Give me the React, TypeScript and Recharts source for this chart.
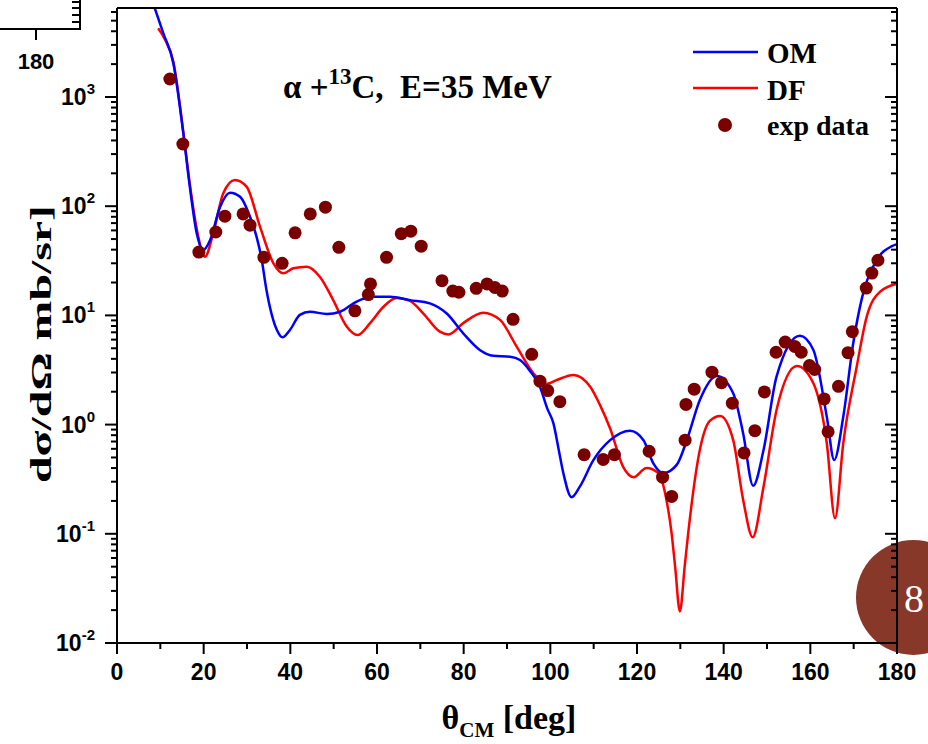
import { ComposedChart, Line, Scatter, XAxis, YAxis } from 'recharts'

// OM (optical model) curve
const omTheta = [
  8.6, 10.7, 13.0, 15.3, 16.8, 18.4, 19.9, 21.5, 23.8, 26.1,
  28.4, 30.7, 32.2, 33.3, 34.5, 36.9, 38.2, 39.9, 42.2, 44.5,
  48.4, 51.5, 55.3, 59.2, 63.0, 67.6, 72.2, 76.1, 79.9, 83.8,
  86.8, 90.7, 93.0, 95.3, 97.6, 99.3, 100.7, 102.0, 103.0, 104.9,
  106.8, 109.9, 113.8, 118.4, 121.5, 123.8, 126.1, 129.2, 131.5, 134.5,
  138.4, 142.2, 144.5, 146.8, 149.2, 152.2, 157.6, 160.7, 163.8, 165.5,
  167.6, 169.9, 171.8, 175.3, 178.8, 180,
]
const omSigma = [
  6700, 3830, 2036, 466, 151, 56.5, 39.7, 49, 99, 133,
  122, 80, 52.6, 34, 17, 7.35, 6.3, 7.35, 10.1, 10.8,
  10.3, 10.8, 13.4, 14.8, 14.8, 13.8, 12.9, 10.4, 6.85, 4.8,
  4.27, 4.19, 3.9, 3.1, 2.22, 1.4, 1.03, 0.57, 0.36, 0.216,
  0.27, 0.47, 0.72, 0.88, 0.72, 0.44, 0.36, 0.43, 0.72, 1.68,
  2.79, 1.94, 0.83, 0.275, 0.585, 2.75, 6.5, 4.82, 1.18, 0.474,
  1.18, 5.56, 13.8, 32, 43, 45,
]

// DF (double folding) curve
const dfTheta = [
  9.5, 11.0, 13.0, 15.3, 16.8, 18.4, 20.3, 22.2, 24.5, 27.2,
  29.9, 33.0, 36.1, 38.4, 40.7, 43.8, 46.8, 49.9, 53.0, 55.5,
  58.4, 61.5, 64.5, 67.6, 70.7, 74.5, 76.5, 79.9, 84.5, 88.4,
  92.2, 96.1, 99.2, 101.5, 105.3, 109.2, 111.5, 113.8, 116.8, 119.2,
  122.2, 124.9, 126.8, 128.0, 128.8, 129.9, 131.0, 131.8, 134.5, 136.8,
  139.2, 142.2, 144.5, 146.7, 149.2, 152.2, 156.9, 160.7, 163.8, 165.7,
  167.6, 170.7, 173.0, 176.1, 180,
]
const dfSigma = [
  4257, 3400, 2100, 480, 160, 62, 34.5, 56.5, 131, 174,
  151, 65, 30, 24.3, 27, 27.9, 22.6, 13.8, 7.9, 6.6,
  8.5, 12, 14.4, 13.6, 10.4, 7.1, 6.7, 8.5, 10.6, 9.1,
  5.2, 2.95, 2.36, 2.56, 2.85, 2.22, 1.5, 0.92, 0.41, 0.33,
  0.4, 0.36, 0.204, 0.1, 0.05, 0.0194, 0.05, 0.1, 0.585, 1.08,
  1.2, 0.72, 0.204, 0.093, 0.27, 1.36, 3.44, 2.39, 0.675, 0.139,
  0.675, 3.39, 9.7, 16.5, 19.5,
]

// experimental points
const expTheta = [
  12.2, 15.2, 18.9, 22.8, 24.9, 29.1, 30.7, 33.9, 38.1, 41.1,
  44.6, 48.1, 51.2, 54.9, 58.0, 58.5, 62.2, 65.6, 67.8, 70.2,
  75.0, 77.5, 78.9, 82.9, 85.4, 87.2, 88.9, 91.4, 95.7, 97.6,
  99.4, 102.2, 107.8, 112.2, 114.8, 122.8, 125.9, 128.0, 131.1, 131.3,
  133.2, 137.3, 139.5, 142.0, 144.7, 147.2, 149.4, 152.1, 154.2, 156.4,
  157.9, 159.8, 161.0, 163.2, 164.1, 166.5, 168.7, 169.7, 172.9, 174.2,
  175.6,
]
const expSigma = [
  1462, 371, 38, 58, 81, 85, 67, 34, 30, 57,
  85, 98, 42, 11, 15.5, 19.4, 34, 56, 59, 43,
  20.8, 16.7, 16.3, 17.7, 19.4, 18, 16.7, 9.2, 4.4, 2.5,
  2.05, 1.62, 0.53, 0.48, 0.53, 0.57, 0.33, 0.22, 0.72, 1.53,
  2.11, 3.02, 2.42, 1.57, 0.55, 0.88, 1.99, 4.6, 5.7, 5.2,
  4.6, 3.47, 3.2, 1.72, 0.86, 2.24, 4.56, 7.1, 17.8, 24.4,
  32,
]

const xTicks = [0, 10, 20, 30, 40, 50, 60, 70, 80, 90, 100, 110, 120, 130, 140, 150, 160, 170, 180]
const yDecades = [-2, -1, 0, 1, 2, 3]
const yMantissas = [1, 2, 3, 4, 5, 6, 7, 8, 9]
const yMax = 6530

const yTicks = yDecades
  .flatMap((d) => yMantissas.map((m) => Number((m * 10 ** d).toPrecision(6))))
  .filter((v) => v <= yMax)

const omData = omTheta.map((x, i) => ({ x, y: omSigma[i] }))
const dfData = dfTheta.map((x, i) => ({ x, y: dfSigma[i] }))
const expData = expTheta.map((x, i) => ({ x, y: expSigma[i] }))

const sans = 'Liberation Sans, Arial, sans-serif'
const serif = 'Liberation Serif, Times New Roman, serif'
const axisStroke = { stroke: '#000', strokeWidth: 2 }

function isMajorY(v: number) {
  const l = Math.log10(v)
  return Math.abs(l - Math.round(l)) < 1e-6
}

function BottomTick(props: any) {
  const { x, y, payload } = props
  const major = payload.value % 20 === 0
  return (
    <g>
      <line x1={x} x2={x} y1={y} y2={y + (major ? 11 : 6)} stroke="#000" strokeWidth={2} />
      {major && (
        <text x={x} y={y + 37} textAnchor="middle" fontFamily={sans} fontWeight="bold" fontSize={23} fill="#000">
          {payload.value}
        </text>
      )}
    </g>
  )
}

function TopTick(props: any) {
  const { x, y, payload } = props
  const major = payload.value % 20 === 0
  return <line x1={x} x2={x} y1={y} y2={y + (major ? 11 : 6)} stroke="#000" strokeWidth={2} />
}

function LeftTick(props: any) {
  const { x, y, payload } = props
  const major = isMajorY(payload.value)
  const e = Math.round(Math.log10(payload.value))
  return (
    <g>
      <line x1={x} x2={x - (major ? 12 : 6)} y1={y} y2={y} stroke="#000" strokeWidth={2} />
      {major && (
        <text x={x - 22} y={y + 8} textAnchor="end" fontFamily={sans} fontWeight="bold" fontSize={23} fill="#000">
          10
          <tspan dy={-11} fontSize={15}>
            {e}
          </tspan>
        </text>
      )}
    </g>
  )
}

function RightTick(props: any) {
  const { x, y, payload } = props
  const major = isMajorY(payload.value)
  return <line x1={x} x2={x - (major ? 12 : 6)} y1={y} y2={y} stroke="#000" strokeWidth={2} />
}

function ExpDot(props: any) {
  const { cx, cy } = props
  return <circle cx={cx} cy={cy} r={6.5} fill="#7a0000" />
}

export default function App() {
  return (
    <div style={{ position: 'absolute', left: 0, top: 0, width: 928, height: 744, background: '#fff' }}>
      <div
        style={{
          position: 'absolute',
          left: 856,
          top: 540,
          width: 115,
          height: 115,
          borderRadius: '50%',
          background: '#873828',
        }}
      />
      <div style={{ position: 'absolute', left: 0, top: 0 }}>
        <ComposedChart width={928} height={744} margin={{ top: 7, right: 30, bottom: 41, left: 57 }}>
          <XAxis
            xAxisId="b"
            type="number"
            dataKey="x"
            domain={[0, 180]}
            ticks={xTicks}
            interval={0}
            height={60}
            tickSize={0}
            tickMargin={0}
            tickLine={false}
            axisLine={axisStroke}
            tick={<BottomTick />}
          />
          <XAxis
            xAxisId="t"
            orientation="top"
            type="number"
            dataKey="x"
            domain={[0, 180]}
            ticks={xTicks}
            interval={0}
            height={1}
            tickSize={0}
            tickMargin={0}
            tickLine={false}
            axisLine={axisStroke}
            tick={<TopTick />}
          />
          <YAxis
            yAxisId="l"
            type="number"
            dataKey="y"
            scale="log"
            domain={[0.01, yMax]}
            allowDataOverflow
            ticks={yTicks}
            interval={0}
            width={60}
            tickSize={0}
            tickMargin={0}
            tickLine={false}
            axisLine={axisStroke}
            tick={<LeftTick />}
          />
          <YAxis
            yAxisId="r"
            orientation="right"
            type="number"
            dataKey="y"
            scale="log"
            domain={[0.01, yMax]}
            allowDataOverflow
            ticks={yTicks}
            interval={0}
            width={1}
            tickSize={0}
            tickMargin={0}
            tickLine={false}
            axisLine={axisStroke}
            tick={<RightTick />}
          />
          <Line
            xAxisId="b"
            yAxisId="l"
            data={dfData}
            dataKey="y"
            type="monotone"
            stroke="#ff0000"
            strokeWidth={2.5}
            dot={false}
            isAnimationActive={false}
          />
          <Line
            xAxisId="b"
            yAxisId="l"
            data={omData}
            dataKey="y"
            type="monotone"
            stroke="#0000ff"
            strokeWidth={2.5}
            dot={false}
            isAnimationActive={false}
          />
          <Scatter
            xAxisId="b"
            yAxisId="l"
            data={expData}
            dataKey="y"
            shape={<ExpDot />}
            isAnimationActive={false}
          />
        </ComposedChart>
      </div>
      <svg
        width={928}
        height={744}
        style={{ position: 'absolute', left: 0, top: 0, pointerEvents: 'none' }}
      >
        {/* leftover of the neighbouring figure */}
        <line x1={0} x2={81} y1={29} y2={29} stroke="#000" strokeWidth={2} />
        <line x1={80} x2={80} y1={0} y2={30} stroke="#000" strokeWidth={2} />
        {[2, 8, 15, 22].map((ty) => (
          <line key={ty} x1={72} x2={80} y1={ty} y2={ty} stroke="#000" strokeWidth={2} />
        ))}
        <line x1={36} x2={36} y1={29} y2={40} stroke="#000" strokeWidth={2} />
        <text x={36} y={69} textAnchor="middle" fontFamily={sans} fontWeight="bold" fontSize={22}>
          180
        </text>

        {/* title */}
        <text x={283} y={98} fontFamily={serif} fontWeight="bold" fontSize={33} xmlSpace="preserve">
          {'α +'}
          <tspan dy={-14} fontSize={23}>
            13
          </tspan>
          <tspan dy={14}>{'C,  E=35 MeV'}</tspan>
        </text>

        {/* legend */}
        <line x1={693} x2={758} y1={52} y2={52} stroke="#0000ff" strokeWidth={2.5} />
        <line x1={693} x2={758} y1={88} y2={88} stroke="#ff0000" strokeWidth={2.5} />
        <circle cx={725} cy={125} r={7} fill="#7a0000" />
        <text x={767} y={63} fontFamily={serif} fontWeight="bold" fontSize={29}>
          OM
        </text>
        <text x={767} y={100} fontFamily={serif} fontWeight="bold" fontSize={29}>
          DF
        </text>
        <text x={767} y={135} fontFamily={serif} fontWeight="bold" fontSize={28}>
          exp data
        </text>

        {/* axis titles */}
        <text
          transform="translate(51, 344) rotate(-90)"
          textAnchor="middle"
          fontFamily={serif}
          fontWeight="bold"
          fontSize={30}
          textLength={278}
          lengthAdjust="spacingAndGlyphs"
        >
          dσ/dΩ mb/sr]
        </text>
        <text x={509} y={729} textAnchor="middle" fontFamily={serif} fontWeight="bold" fontSize={34}>
          θ
          <tspan dy={8} fontSize={21}>
            CM
          </tspan>
          <tspan dy={-8}>{' [deg]'}</tspan>
        </text>

        {/* page number */}
        <text x={914} y={612} textAnchor="middle" fontFamily={serif} fontSize={40} fill="#fff">
          8
        </text>
      </svg>
    </div>
  )
}
